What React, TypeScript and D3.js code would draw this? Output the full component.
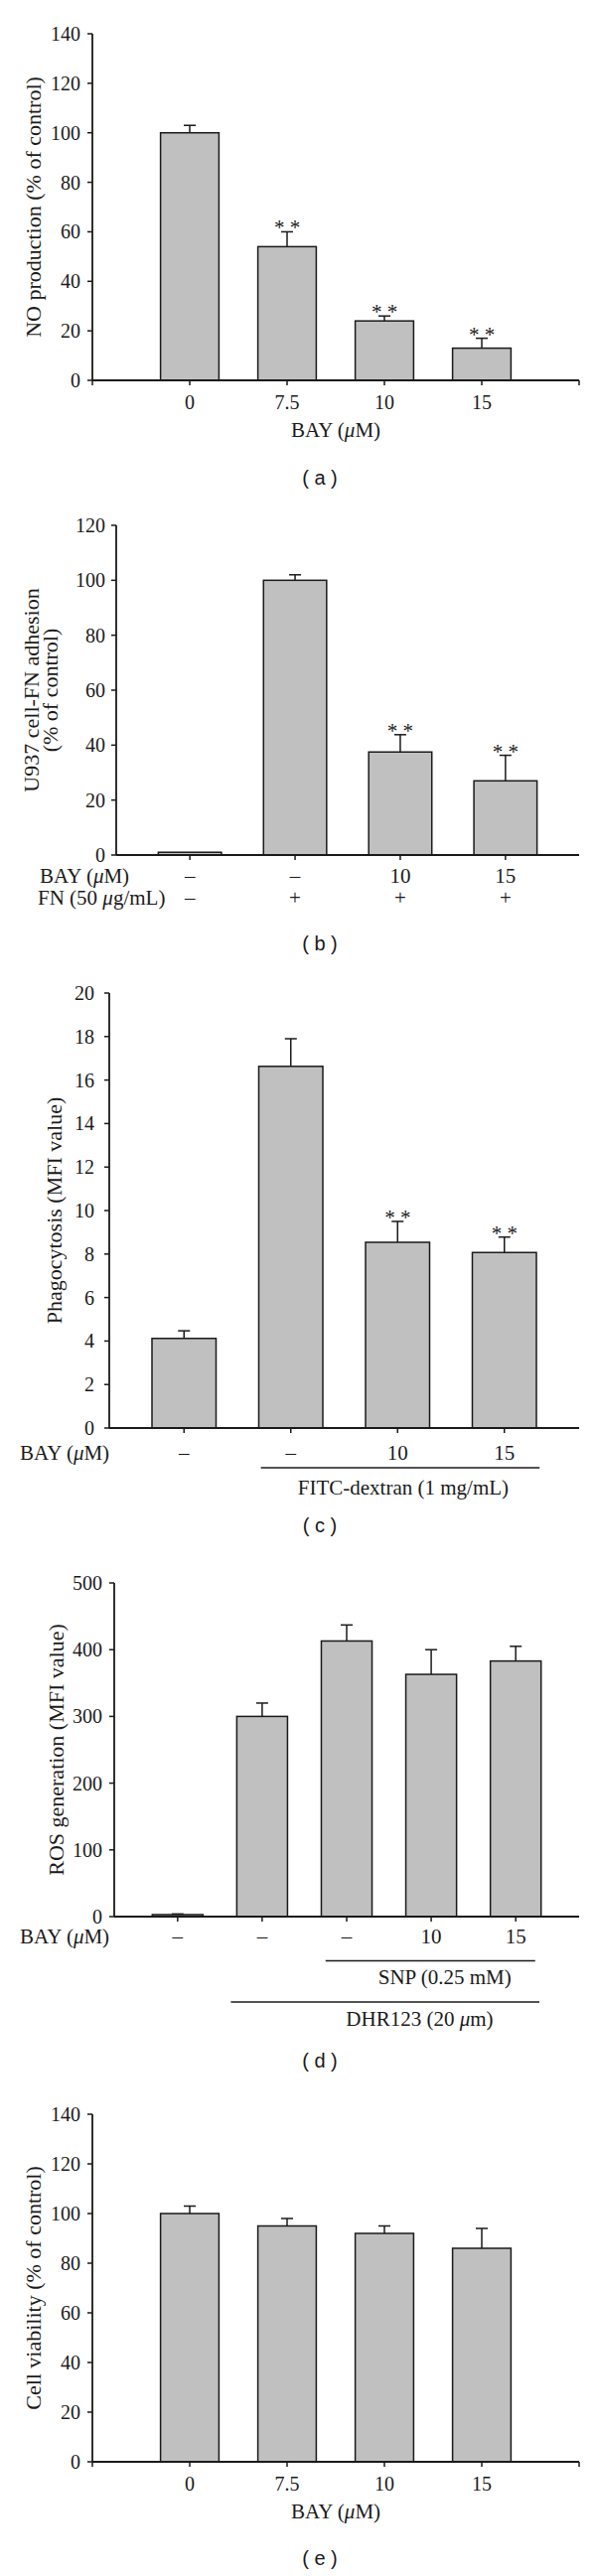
import React from "react";
import * as d3 from "d3";

// ---------- DATA ----------
// (a) NO production
const aCategories = ["0", "7.5", "10", "15"];
const aValues = [100, 54, 24, 13];
const aErrors = [3, 6, 2, 4];
const aSignificant = [false, true, true, true];
const aTicks = [0, 20, 40, 60, 80, 100, 120, 140];

// (b) U937 cell-FN adhesion
const bCategories = ["none", "FN", "FN+BAY10", "FN+BAY15"];
const bValues = [1, 100, 37.5, 27];
const bErrors = [0, 2, 6.3, 9.3];
const bSignificant = [false, false, true, true];
const bTicks = [0, 20, 40, 60, 80, 100, 120];
const bBayRow = ["–", "–", "10", "15"];
const bFnRow = ["–", "+", "+", "+"];

// (c) Phagocytosis
const cCategories = ["none", "FITC", "FITC+BAY10", "FITC+BAY15"];
const cValues = [4.12, 16.63, 8.54, 8.07];
const cErrors = [0.35, 1.27, 0.96, 0.71];
const cSignificant = [false, false, true, true];
const cTicks = [0, 2, 4, 6, 8, 10, 12, 14, 16, 18, 20];
const cBayRow = ["–", "–", "10", "15"];

// (d) ROS generation
const dCategories = ["none", "DHR", "DHR+SNP", "DHR+SNP+BAY10", "DHR+SNP+BAY15"];
const dValues = [3, 300, 413, 363, 383];
const dErrors = [1, 20, 24, 37, 22];
const dSignificant = [false, false, false, false, false];
const dTicks = [0, 100, 200, 300, 400, 500];
const dBayRow = ["–", "–", "–", "10", "15"];

// (e) Cell viability
const eCategories = ["0", "7.5", "10", "15"];
const eValues = [100, 95, 92, 86];
const eErrors = [3, 3, 3, 8];
const eSignificant = [false, false, false, false];
const eTicks = [0, 20, 40, 60, 80, 100, 120, 140];

// ---------- STYLE ----------
const SERIF = "'Liberation Serif', 'Times New Roman', serif";
const SANS = "'Liberation Sans', Arial, sans-serif";
const INK = "#1a1a1a";
const FILL = "#c0c0c0";

function Rich({ text }: { text: string }) {
  const parts = text.split("μ");
  const out: any[] = [];
  parts.forEach((p, i) => {
    if (i > 0) out.push(<tspan key={"m" + i} fontStyle="italic">μ</tspan>);
    if (p) out.push(<tspan key={"t" + i}>{p}</tspan>);
  });
  return <>{out}</>;
}

interface PanelCfg {
  categories: string[];
  values: number[];
  errors: number[];
  significant: boolean[];
  ticks: number[];
  x0: number;
  x1: number;
  padding: number;
  yTop: number;
  yBottom: number;
  labelGap: number;
  titleLines: string[];
  titleX: number[];
  endTicks: boolean;
  caption: string;
  captionY: number;
  below: (x: d3.ScalePoint<string>, axisY: number) => React.ReactNode;
}

function Panel({ cfg }: { cfg: PanelCfg }) {
  const yMax = cfg.ticks[cfg.ticks.length - 1];
  const x = d3.scalePoint<string>().domain(cfg.categories).range([cfg.x0, cfg.x1]).padding(cfg.padding);
  const y = d3.scaleLinear().domain([0, yMax]).range([cfg.yBottom, cfg.yTop]);
  const bw = x.step() * 0.6;
  const axisY = y(0);
  const titleCenterY = (cfg.yTop + cfg.yBottom) / 2;
  return (
    <g>
      {cfg.categories.map((c, i) => {
        const cx = x(c)!;
        const top = y(cfg.values[i]);
        const errTop = y(cfg.values[i] + cfg.errors[i]);
        return (
          <g key={c}>
            {cfg.errors[i] > 0 && (
              <g stroke={INK} strokeWidth={1.5}>
                <line x1={cx} x2={cx} y1={top} y2={errTop} />
                <line x1={cx - 6} x2={cx + 6} y1={errTop} y2={errTop} />
              </g>
            )}
            <rect x={cx - bw / 2} y={top} width={bw} height={axisY - top} fill={FILL} stroke={INK} strokeWidth={1.5} />
            {cfg.significant[i] && (
              <text x={cx} y={errTop + 3} textAnchor="middle" fontFamily={SERIF} fontSize={21} fill={INK}>
                * *
              </text>
            )}
          </g>
        );
      })}
      <line x1={cfg.x0} x2={cfg.x0} y1={cfg.yTop} y2={axisY} stroke={INK} strokeWidth={1.8} />
      {cfg.ticks.map((t) => (
        <g key={t}>
          <line x1={cfg.x0 - 5} x2={cfg.x0} y1={y(t)} y2={y(t)} stroke={INK} strokeWidth={1.5} />
          <text x={cfg.x0 - cfg.labelGap} y={y(t)} dy="0.35em" textAnchor="end" fontFamily={SERIF} fontSize={20} fill={INK}>
            {t}
          </text>
        </g>
      ))}
      <line x1={cfg.x0} x2={cfg.x1} y1={axisY} y2={axisY} stroke={INK} strokeWidth={2} />
      {cfg.categories.map((c) => (
        <line key={c} x1={x(c)!} x2={x(c)!} y1={axisY} y2={axisY + 5} stroke={INK} strokeWidth={1.5} />
      ))}
      {cfg.endTicks && (
        <g stroke={INK} strokeWidth={1.5}>
          <line x1={cfg.x0} x2={cfg.x0} y1={axisY} y2={axisY + 5} />
          <line x1={cfg.x1} x2={cfg.x1} y1={axisY} y2={axisY + 5} />
        </g>
      )}
      {cfg.titleLines.map((line, i) => (
        <text
          key={i}
          transform={`translate(${cfg.titleX[i]},${titleCenterY}) rotate(-90)`}
          dy="0.35em"
          textAnchor="middle"
          fontFamily={SERIF}
          fontSize={22}
          fill={INK}
        >
          {line}
        </text>
      ))}
      {cfg.below(x, axisY)}
      <text x={322} y={cfg.captionY} textAnchor="middle" fontFamily={SANS} fontSize={20} fill={INK}>
        {cfg.caption}
      </text>
    </g>
  );
}

function numericBelow(x: d3.ScalePoint<string>, axisY: number, x0: number, x1: number) {
  return (
    <g fontFamily={SERIF} fill={INK}>
      {x.domain().map((c) => (
        <text key={c} x={x(c)!} y={axisY + 29} textAnchor="middle" fontSize={20}>
          {c}
        </text>
      ))}
      <text x={(x0 + x1) / 2} y={axisY + 57} textAnchor="middle" fontSize={21}>
        <Rich text="BAY (μM)" />
      </text>
    </g>
  );
}

const panelA: PanelCfg = {
  categories: aCategories,
  values: aValues,
  errors: aErrors,
  significant: aSignificant,
  ticks: aTicks,
  x0: 93,
  x1: 583,
  padding: 1,
  yTop: 34,
  yBottom: 383,
  labelGap: 12,
  titleLines: ["NO production (% of control)"],
  titleX: [33],
  endTicks: true,
  caption: "( a )",
  captionY: 488,
  below: (x, axisY) => numericBelow(x, axisY, 93, 583),
};

const panelB: PanelCfg = {
  categories: bCategories,
  values: bValues,
  errors: bErrors,
  significant: bSignificant,
  ticks: bTicks,
  x0: 117,
  x1: 583,
  padding: 0.7,
  yTop: 529,
  yBottom: 861,
  labelGap: 11,
  titleLines: ["U937 cell-FN adhesion", "(% of control)"],
  titleX: [31, 50],
  endTicks: false,
  caption: "( b )",
  captionY: 957,
  below: (x, axisY) => (
    <g fontFamily={SERIF} fill={INK} fontSize={21}>
      <text x={40} y={axisY + 28}>
        <Rich text="BAY (μM)" />
      </text>
      <text x={38} y={axisY + 50}>
        <Rich text="FN (50 μg/mL)" />
      </text>
      {x.domain().map((c, i) => (
        <g key={c}>
          <text x={x(c)!} y={axisY + 28} textAnchor="middle">{bBayRow[i]}</text>
          <text x={x(c)!} y={axisY + 50} textAnchor="middle">{bFnRow[i]}</text>
        </g>
      ))}
    </g>
  ),
};

const panelC: PanelCfg = {
  categories: cCategories,
  values: cValues,
  errors: cErrors,
  significant: cSignificant,
  ticks: cTicks,
  x0: 110,
  x1: 583,
  padding: 0.7,
  yTop: 1000,
  yBottom: 1438,
  labelGap: 15,
  titleLines: ["Phagocytosis (MFI value)"],
  titleX: [54],
  endTicks: false,
  caption: "( c )",
  captionY: 1543,
  below: (x, axisY) => {
    const d = x.domain();
    const s = x.step();
    const l0 = x(d[1])! - 0.28 * s;
    const l1 = x(d[3])! + 0.33 * s;
    return (
      <g fontFamily={SERIF} fill={INK} fontSize={21}>
        <text x={20} y={axisY + 32}>
          <Rich text="BAY (μM)" />
        </text>
        {d.map((c, i) => (
          <text key={c} x={x(c)!} y={axisY + 32} textAnchor="middle">{cBayRow[i]}</text>
        ))}
        <line x1={l0} x2={l1} y1={axisY + 40} y2={axisY + 40} stroke={INK} strokeWidth={1.5} />
        <text x={(l0 + l1) / 2 + 3} y={axisY + 67} textAnchor="middle">FITC-dextran (1 mg/mL)</text>
      </g>
    );
  },
};

const panelD: PanelCfg = {
  categories: dCategories,
  values: dValues,
  errors: dErrors,
  significant: dSignificant,
  ticks: dTicks,
  x0: 115,
  x1: 583,
  padding: 0.75,
  yTop: 1594,
  yBottom: 1930,
  labelGap: 12,
  titleLines: ["ROS generation (MFI value)"],
  titleX: [56],
  endTicks: false,
  caption: "( d )",
  captionY: 2082,
  below: (x, axisY) => {
    const d = x.domain();
    const s = x.step();
    const snp0 = x(d[2])! - 0.25 * s;
    const snp1 = x(d[4])! + 0.23 * s;
    const dhr0 = x(d[1])! - 0.37 * s;
    const dhr1 = x(d[4])! + 0.28 * s;
    return (
      <g fontFamily={SERIF} fill={INK} fontSize={21}>
        <text x={20} y={axisY + 27}>
          <Rich text="BAY (μM)" />
        </text>
        {d.map((c, i) => (
          <text key={c} x={x(c)!} y={axisY + 27} textAnchor="middle">{dBayRow[i]}</text>
        ))}
        <line x1={snp0} x2={snp1} y1={axisY + 44.5} y2={axisY + 44.5} stroke={INK} strokeWidth={1.5} />
        <text x={snp0 + 120} y={axisY + 68} textAnchor="middle">SNP (0.25 mM)</text>
        <line x1={dhr0} x2={dhr1} y1={axisY + 86} y2={axisY + 86} stroke={INK} strokeWidth={1.5} />
        <text x={dhr0 + 190} y={axisY + 110} textAnchor="middle">
          <Rich text="DHR123 (20 μm)" />
        </text>
      </g>
    );
  },
};

const panelE: PanelCfg = {
  categories: eCategories,
  values: eValues,
  errors: eErrors,
  significant: eSignificant,
  ticks: eTicks,
  x0: 93,
  x1: 583,
  padding: 1,
  yTop: 2129,
  yBottom: 2479,
  labelGap: 12,
  titleLines: ["Cell viability (% of control)"],
  titleX: [33],
  endTicks: true,
  caption: "( e )",
  captionY: 2583,
  below: (x, axisY) => numericBelow(x, axisY, 93, 583),
};

const panels = [panelA, panelB, panelC, panelD, panelE];

export default function App() {
  return (
    <svg
      width={600}
      height={2594}
      viewBox="0 0 600 2594"
      style={{ position: "absolute", left: 0, top: 0, display: "block", background: "#fff" }}
    >
      <rect x={0} y={0} width={600} height={2594} fill="#fff" />
      {panels.map((p, i) => (
        <Panel key={i} cfg={p} />
      ))}
    </svg>
  );
}
